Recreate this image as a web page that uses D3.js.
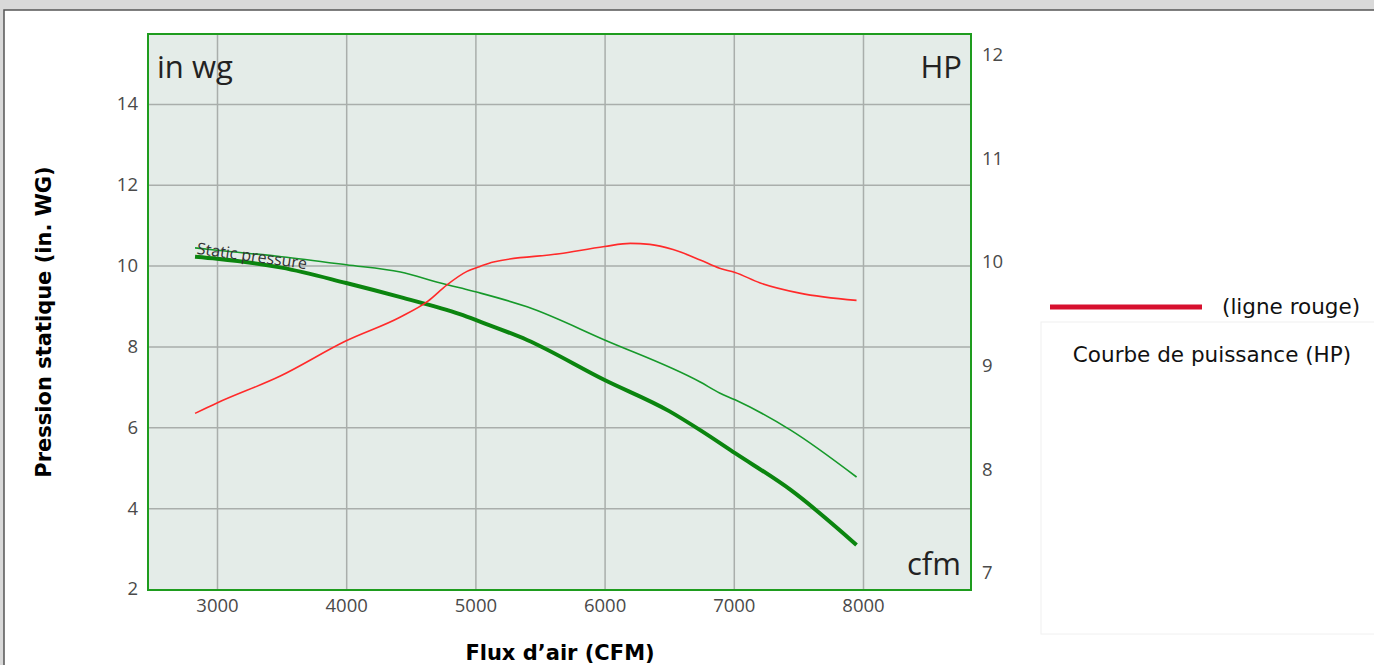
<!DOCTYPE html>
<html>
<head>
<meta charset="utf-8">
<script src="https://cdn.jsdelivr.net/npm/d3@7"></script>
<style>
  body { margin: 0; background: #d9d9d9; }
  svg { display: block; }
</style>
</head>
<body>
<div id="chart"></div>
<script>
// airflow (cfm) vs static pressure (in wg) and power (HP)
var pressCfm = [2830, 3000, 3500, 4000, 4420, 4880, 5040, 5400, 6000, 6500, 6740, 7010, 7440, 7950];
var pressVals = [10.22, 10.17, 9.95, 9.57, 9.22, 8.80, 8.61, 8.16, 7.17, 6.40, 5.93, 5.36, 4.45, 3.09];

var press2Cfm = [2830, 3000, 3500, 4000, 4420, 4730, 4880, 5040, 5400, 6000, 6740, 6890, 7010, 7440, 7950];
var press2Vals = [10.44, 10.38, 10.22, 10.02, 9.84, 9.57, 9.45, 9.32, 8.98, 8.16, 7.12, 6.85, 6.68, 5.93, 4.77];

var hpCfm = [2830, 3000, 3490, 4000, 4420, 4630, 4780, 4935, 5040, 5140, 5650, 6000, 6200, 6350, 6530, 6740, 6890, 7010, 7200, 7510, 7950];
var hpVals = [8.54, 8.64, 8.90, 9.24, 9.47, 9.62, 9.78, 9.91, 9.96, 10.0, 10.08, 10.15, 10.18, 10.17, 10.12, 10.02, 9.94, 9.90, 9.80, 9.70, 9.63];

var xTicks = [3000, 4000, 5000, 6000, 7000, 8000];
var yLeftTicks = [2, 4, 6, 8, 10, 12, 14];
var yRightTicks = [7, 8, 9, 10, 11, 12];

var width = 1374, height = 665;
var plot = {left: 148, top: 34, right: 971, bottom: 590};

var x = d3.scaleLinear().domain([2466, 8836]).range([plot.left, plot.right]);
var yL = d3.scaleLinear().domain([1.975, 15.73]).range([plot.bottom, plot.top]);
var yR = d3.scaleLinear().domain([6.836, 12.2]).range([plot.bottom, plot.top]);

var svg = d3.select('#chart').append('svg')
    .attr('width', width)
    .attr('height', height);

// page panel
svg.append('rect')
    .attr('x', 4).attr('y', 10)
    .attr('width', width).attr('height', height)
    .attr('fill', '#fff')
    .attr('stroke', '#555')
    .attr('stroke-width', 1.5);

// plot background
svg.append('rect')
    .attr('x', plot.left).attr('y', plot.top)
    .attr('width', plot.right - plot.left)
    .attr('height', plot.bottom - plot.top)
    .attr('fill', '#e4ece8');

// grid
svg.append('g')
    .attr('transform', `translate(0, ${plot.bottom})`)
    .call(d3.axisBottom(x).tickValues(xTicks).tickSize(-(plot.bottom - plot.top)).tickFormat(''))
    .call(g => g.select('.domain').remove())
    .call(g => g.selectAll('line').attr('stroke', '#a9aeab').attr('stroke-width', 1.5));

svg.append('g')
    .attr('transform', `translate(${plot.left}, 0)`)
    .call(d3.axisLeft(yL).tickValues(yLeftTicks.slice(1)).tickSize(-(plot.right - plot.left)).tickFormat(''))
    .call(g => g.select('.domain').remove())
    .call(g => g.selectAll('line').attr('stroke', '#a9aeab').attr('stroke-width', 1.5));

// frame
svg.append('rect')
    .attr('x', plot.left).attr('y', plot.top)
    .attr('width', plot.right - plot.left)
    .attr('height', plot.bottom - plot.top)
    .attr('fill', 'none')
    .attr('stroke', '#1e9c1e')
    .attr('stroke-width', 2);

// tick labels
function styleTicks(g) {
  g.select('.domain').remove();
  g.selectAll('line').remove();
  g.selectAll('text')
    .attr('font-family', '"Open Sans", sans-serif')
    .attr('font-size', '18.5px')
    .attr('fill', '#4a4a4a');
}

svg.append('g')
    .attr('transform', `translate(${plot.left - 1}, 0)`)
    .call(d3.axisLeft(yL).tickValues(yLeftTicks).tickSize(0).tickPadding(9).tickFormat(d3.format('d')))
    .call(styleTicks);

svg.append('g')
    .attr('transform', `translate(${plot.right}, 0)`)
    .call(d3.axisRight(yR).tickValues(yRightTicks).tickSize(0).tickPadding(11).tickFormat(d3.format('d')))
    .call(styleTicks);

svg.append('g')
    .attr('transform', `translate(0, ${plot.bottom})`)
    .call(d3.axisBottom(x).tickValues(xTicks).tickSize(0).tickPadding(9).tickFormat(d3.format('d')))
    .call(styleTicks);

// curves
var lineP = d3.line().x(d => x(d[0])).y(d => yL(d[1])).curve(d3.curveMonotoneX);
var lineH = d3.line().x(d => x(d[0])).y(d => yR(d[1])).curve(d3.curveMonotoneX);

svg.append('path')
    .datum(press2Cfm.map((c, i) => [c, press2Vals[i]]))
    .attr('d', lineP)
    .attr('fill', 'none')
    .attr('stroke', '#16992a')
    .attr('stroke-width', 1.6);

svg.append('path')
    .datum(pressCfm.map((c, i) => [c, pressVals[i]]))
    .attr('d', lineP)
    .attr('fill', 'none')
    .attr('stroke', '#0b850f')
    .attr('stroke-width', 4);

svg.append('path')
    .datum(hpCfm.map((c, i) => [c, hpVals[i]]))
    .attr('d', lineH)
    .attr('fill', 'none')
    .attr('stroke', '#ff2a2a')
    .attr('stroke-width', 1.6);

// in-plot labels
svg.append('text')
    .attr('transform', `translate(${x(2840)}, ${yL(10.22) - 3}) rotate(8)`)
    .attr('font-family', '"Open Sans", sans-serif')
    .attr('font-size', '16px')
    .attr('fill', '#333')
    .text('Static pressure');

var unitFont = '"Open Sans", sans-serif';
svg.append('text')
    .attr('x', plot.left + 9).attr('y', plot.top + 44)
    .attr('font-family', unitFont).attr('font-size', '31px').attr('fill', '#222')
    .text('in wg');
svg.append('text')
    .attr('x', plot.right - 9).attr('y', plot.top + 44)
    .attr('text-anchor', 'end')
    .attr('font-family', unitFont).attr('font-size', '31px').attr('fill', '#222')
    .text('HP');
svg.append('text')
    .attr('x', plot.right - 10).attr('y', plot.bottom - 15)
    .attr('text-anchor', 'end')
    .attr('font-family', unitFont).attr('font-size', '31px').attr('fill', '#222')
    .text('cfm');

// axis titles
svg.append('text')
    .attr('transform', `translate(51, ${(plot.top + plot.bottom) / 2 + 10}) rotate(-90)`)
    .attr('text-anchor', 'middle')
    .attr('font-family', '"DejaVu Sans", Verdana, sans-serif')
    .attr('font-weight', 'bold')
    .attr('font-size', '21px')
    .attr('fill', '#000')
    .text('Pression statique (in. WG)');

svg.append('text')
    .attr('x', 560).attr('y', 660)
    .attr('text-anchor', 'middle')
    .attr('font-family', '"DejaVu Sans", Verdana, sans-serif')
    .attr('font-weight', 'bold')
    .attr('font-size', '21px')
    .attr('fill', '#000')
    .text('Flux d\u2019air (CFM)');

// legend
svg.append('line')
    .attr('x1', 1050).attr('x2', 1202)
    .attr('y1', 307).attr('y2', 307)
    .attr('stroke', '#d7102e')
    .attr('stroke-width', 5);

svg.append('text')
    .attr('x', 1222).attr('y', 314)
    .attr('font-family', '"DejaVu Sans", Verdana, sans-serif')
    .attr('font-size', '21.5px')
    .attr('fill', '#111')
    .text('(ligne rouge)');

svg.append('rect')
    .attr('x', 1041).attr('y', 322)
    .attr('width', 345).attr('height', 312)
    .attr('fill', '#fff')
    .attr('stroke', '#f0f0f0');

svg.append('text')
    .attr('x', 1212).attr('y', 362)
    .attr('text-anchor', 'middle')
    .attr('font-family', '"DejaVu Sans", Verdana, sans-serif')
    .attr('font-size', '21.5px')
    .attr('fill', '#111')
    .text('Courbe de puissance (HP)');
</script>
</body>
</html>
